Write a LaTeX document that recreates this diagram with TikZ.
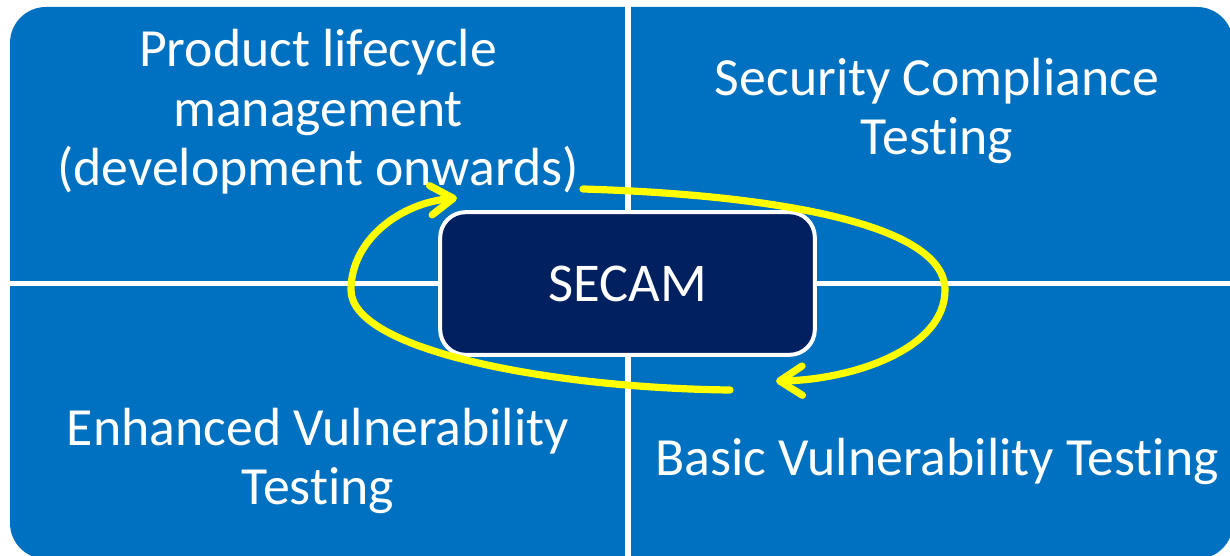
\documentclass[tikz,border=0pt]{standalone}
\usepackage{fontspec}
\setmainfont{Carlito}[RawFeature={-liga;-clig;-calt}]
\usetikzlibrary{arrows.meta}
\definecolor{quadblue}{HTML}{0070C0}
\definecolor{navy}{HTML}{002060}
\definecolor{arrowyellow}{HTML}{FFFF00}
\tikzset{
  quad/.style={fill=quadblue},
  gap/.style={fill=white},
  label/.style={text=white, font=\fontsize{40.3}{44.5}\selectfont, align=center, inner sep=0pt},
  centerbox/.style={fill=navy, draw=white, line width=3pt, rounded corners=19pt, minimum width=281pt, minimum height=107pt, text=white, font=\fontsize{41}{44}\selectfont, inner sep=0pt},
  cycle arrow/.style={draw=arrowyellow, line width=5.4pt, line cap=round, -{Straight Barb[length=17pt, width=22pt, round]}},
}
\begin{document}
\begin{tikzpicture}[x=0.75pt, y=-0.75pt]
  \useasboundingbox (0,0) rectangle (1230,556);
  \clip (0,0) rectangle (1230,556);
  % quadrants: one rounded panel split by white gaps
  \fill[quad, rounded corners=27pt] (10,7) rectangle (1233,559);
  \fill[gap] (624.5,0) rectangle (630.5,556);
  \fill[gap] (0,281) rectangle (1230,286);
  % labels
  \node[label] (plm) at (318,112) {Product lifecycle\\management\\(development onwards)};
  \node[label] (sct) at (937,111) {Security Compliance\\Testing};
  \node[label] (evt) at (318,461) {Enhanced Vulnerability\\Testing};
  \node[label] (bvt) at (937,461) {Basic Vulnerability Testing};
  % center
  \node[centerbox] (secam) at (627.5,283.5) {SECAM};
  % cycle arrows
  \coordinate (a1s) at (583,189);
  \coordinate (a1m) at (945,290);
  \coordinate (a1e) at (776,381);
  \coordinate (a2s) at (730,390);
  \coordinate (a2m) at (351,290);
  \coordinate (a2e) at (457,198);
  \draw[cycle arrow] (a1s) .. controls (780,195) and (945,225) .. (a1m)
        .. controls (945,350) and (850,380) .. (a1e);
  \draw[cycle arrow] (a2s) .. controls (550,388) and (351,350) .. (a2m)
        .. controls (351,240) and (400,203) .. (a2e);
\end{tikzpicture}
\end{document}
